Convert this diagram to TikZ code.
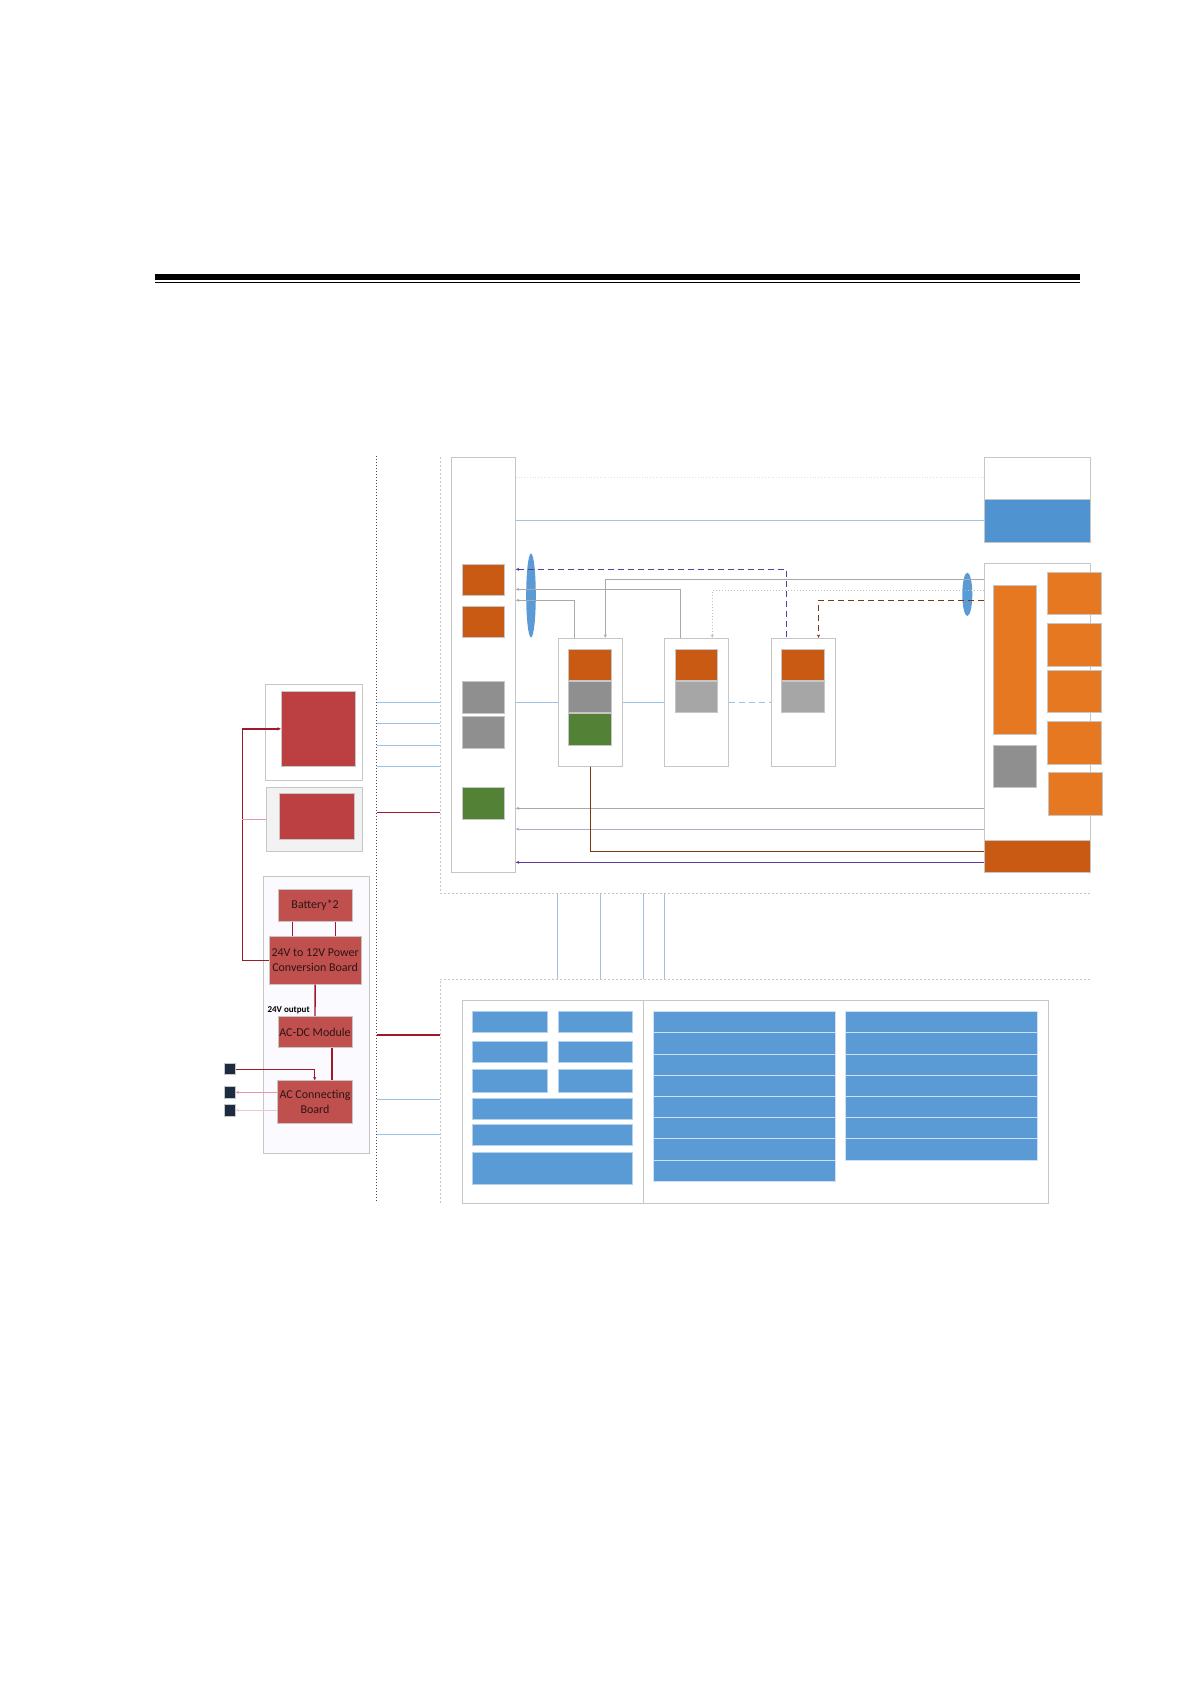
\documentclass[tikz,border=0pt]{standalone}
\usepackage{fontspec}
\setmainfont{Carlito}
\usetikzlibrary{arrows.meta,fit,shapes.geometric}
\definecolor{blkRed}{HTML}{C0504D}
\definecolor{blkDeepRed}{HTML}{BC3F42}
\definecolor{blkRust}{HTML}{C95A14}
\definecolor{blkOrange}{HTML}{E67822}
\definecolor{blkGray}{HTML}{8F8F8F}
\definecolor{blkSilver}{HTML}{A6A6A6}
\definecolor{blkGreen}{HTML}{538135}
\definecolor{blkBlue}{HTML}{5B9BD5}
\definecolor{blkSensor}{HTML}{4F93D1}
\definecolor{blkSky}{HTML}{9DC3E6}
\definecolor{blkFrame}{HTML}{C6C6C6}
\definecolor{blkWire}{HTML}{A9A9A9}
\definecolor{blkLilac}{HTML}{B4A7C8}
\definecolor{blkPurple}{HTML}{5E3A9C}
\definecolor{blkBrown}{HTML}{7A3A10}
\definecolor{blkCrimson}{HTML}{A0182C}
\definecolor{blkPink}{HTML}{E59AA5}
\definecolor{blkBlush}{HTML}{F0C6CC}
\definecolor{blkNavy}{HTML}{1C2B40}
\definecolor{blkInk}{HTML}{2E1416}
\tikzset{
  blk panel/.style={draw=blkFrame, fill=white, line width=0.5pt, inner sep=0pt},
  blk cell/.style={draw=blkFrame, line width=0.5pt, inner sep=0pt},
  blk module/.style={blk cell, fill=blkRed},
  blk caption/.style={font=\fontsize{6pt}{7.3pt}\selectfont, text=blkInk, align=center, inner sep=0pt},
  blk bar/.style={draw=blkBlue!45, fill=blkBlue, line width=0.5pt, inner sep=0pt},
  blk strip/.style={draw=blkBlue!30, fill=blkBlue, line width=0.5pt, inner sep=0pt},
  blk lens/.style={ellipse, fill=blkBlue, draw=none, inner sep=0pt},
  blk sky/.style={draw=blkSky, line width=0.5pt},
  blk wire/.style={draw=blkWire, line width=0.5pt},
  blk lilac/.style={draw=blkLilac, line width=0.5pt},
  blk feed/.style={draw=blkCrimson, line width=0.7pt},
  blk pink/.style={draw=blkPink, line width=0.6pt},
  blk bus/.style={draw=blkInk!80, densely dotted, line width=0.5pt},
  blk zone/.style={draw=blkFrame, dash pattern=on 1pt off 1pt, line width=0.4pt},
  blk end/.style={-{Stealth[length=1.7pt,width=1.6pt]}},
  blk start/.style={{Stealth[length=1.7pt,width=1.6pt]}-},
}

\begin{document}
\begin{tikzpicture}[x=0.5pt,y=-0.5pt]
  \useasboundingbox (0,0) rectangle (1191,1684);
  % Heading rule
  \fill[black] (155,274) rectangle (1080,280);
  \fill[black] (155,282) rectangle (1080,283.2);

  % Bus line and zone frames
  \coordinate (busN) at (376.5,456);
  \coordinate (busS) at (376.5,1203);
  \coordinate (upN) at (440.3,457);
  \coordinate (upS) at (440.3,893.3);
  \coordinate (upE) at (1090,893.3);
  \coordinate (loN) at (440.3,979);
  \coordinate (loE) at (1090,979);
  \coordinate (loS) at (440.3,1203);
  \draw[blk bus] (busN) -- (busS);
  \draw[blk zone] (upN) -- (upS) -- (upE);
  \draw[blk zone] (loS) -- (loN) -- (loE);

  % Left: two screens
  \node[blk panel, fit={(265.3,684.3) (362.7,780.3)}] (screenA) {};
  \node[blk cell, fill=blkDeepRed, fit={(281.3,691.3) (355.3,766.3)}] (screenAin) {};
  \node[blk panel, fill=black!5, fit={(266.3,787.3) (362.7,851.7)}] (screenB) {};
  \node[blk cell, fill=blkDeepRed, fit={(279.7,793.3) (354.3,839.3)}] (screenBin) {};

  % Left: power box
  \node[blk panel, fill=blue!2, fit={(263.3,876.5) (369.5,1153.3)}] (power) {};
  \node[blk module, fit={(278.3,889) (352,921.5)}] (batt) {};
  \node[blk module, fit={(269.3,936.7) (361,984)}] (conv) {};
  \node[blk module, fit={(278,1016.7) (352,1047.3)}] (acdc) {};
  \node[blk module, fit={(277.7,1080.7) (352.3,1123)}] (acboard) {};
  \node[blk caption] (battText) at (batt.center) {Battery*2};
  \node[blk caption] (convText) at (conv.center) {24V to 12V Power\\Conversion Board};
  \node[blk caption] (acdcText) at (acdc.center) {AC-DC Module};
  \node[blk caption] (acboardText) at (acboard.center) {AC Connecting\\Board};
  \node[font=\fontsize{4.5pt}{5pt}\selectfont\bfseries, anchor=east, inner sep=0pt] (vout) at (310,1010) {24V output};
  \foreach \i/\ya/\yb in {1/1063.7/1074.7, 2/1086.7/1098, 3/1104.3/1116}
    \node[draw=blkFrame, fill=blkNavy, line width=0.3pt, inner sep=0pt, fit={(224.3,\ya) (235.3,\yb)}] (plug\i) {};

  \draw[blk feed] (batt.south -| 292.7,0) -- (conv.north -| 292.7,0);
  \draw[blk feed] (batt.south -| 335.7,0) -- (conv.north -| 335.7,0);
  \draw[blk feed] (conv.south) -- (acdc.north);
  \draw[blk feed] (acdc.south -| 332,0) -- (acboard.north -| 332,0);
  \draw[blk feed, blk end] (conv.west) -| (screenAin.west -| 242.3,0) -- (screenAin.west);
  \draw[blk pink] (screenB.west) -- (screenB.west -| 242.3,0);
  \draw[blk feed, blk end] (plug1.east) -| (acboard.north -| 314.7,0);
  \draw[blk pink, blk end] (acboard.west |- plug2.east) -- (plug2.east);
  \draw[blk pink, draw=blkBlush, blk end] (acboard.west |- plug3.east) -- (plug3.east);

  % Bus taps
  \foreach \y in {702.3,723.3,745.3,766.3,1099.3,1134.3}
    \draw[blk sky] (busN |- 0,\y) -- (upN |- 0,\y);
  \foreach \y in {812.3,1035}
    \draw[blk feed] (busN |- 0,\y) -- (upN |- 0,\y);

  % Upper zone: hub column
  \node[blk panel, fit={(451.7,457.3) (515.3,872.3)}] (hub) {};
  \node[blk cell, fill=blkRust, fit={(462.3,564.3) (504.3,595.3)}] (hubA) {};
  \node[blk cell, fill=blkRust, fit={(462.3,606.3) (504.3,637.3)}] (hubB) {};
  \node[blk cell, fill=blkGray, fit={(462.3,681) (504.3,713.3)}] (hubC) {};
  \node[blk cell, fill=blkGray, fit={(462.3,716) (504.3,748.3)}] (hubD) {};
  \node[blk cell, fill=blkGreen, fit={(462.3,787.3) (504.3,819.3)}] (hubE) {};

  % Upper zone: three units
  \node[blk panel, fit={(558.3,638.3) (622.3,766)}] (unitA) {};
  \node[blk panel, fit={(664.3,638.3) (728.3,766)}] (unitB) {};
  \node[blk panel, fit={(771,638.3) (835.3,766)}] (unitC) {};
  \node[blk cell, fill=blkRust, fit={(568.7,649.7) (611.3,680)}] (unitAtop) {};
  \node[blk cell, fill=blkGray, fit={(568.7,681) (611.3,712.3)}] (unitAmid) {};
  \node[blk cell, fill=blkGreen, fit={(568.7,713.7) (611.3,745.3)}] (unitAlow) {};
  \node[blk cell, fill=blkRust, fit={(675.3,649.7) (717.3,680)}] (unitBtop) {};
  \node[blk cell, fill=blkSilver, fit={(675.3,681) (717.3,712.7)}] (unitBmid) {};
  \node[blk cell, fill=blkRust, fit={(781.7,649.7) (824.3,680)}] (unitCtop) {};
  \node[blk cell, fill=blkSilver, fit={(781.7,681) (824.3,712.7)}] (unitCmid) {};

  % Upper zone: sensor and drive
  \node[blk panel, fit={(984.3,457.3) (1090.3,542.3)}] (sensor) {};
  \node[blk cell, fill=blkSensor, fit={(984.3,499.3) (1090.3,542.3)}] (sensorBar) {};
  \node[blk panel, fit={(984.3,563.3) (1090.3,872.3)}] (drive) {};
  \node[blk cell, fill=blkRust, fit={(984.3,840.7) (1090.3,872.3)}] (driveBase) {};
  \node[blk cell, fill=blkOrange, fit={(993.3,585.7) (1036.3,734.3)}] (driveCore) {};
  \node[blk cell, fill=blkGray, fit={(993.3,745) (1036.3,787.7)}] (driveGray) {};
  \foreach \i/\ya/\yb in {1/572.7/614.3, 2/623.3/666, 3/670.3/712.3, 4/721.7/764}
    \node[blk cell, fill=blkOrange, fit={(1047.7,\ya) (1101,\yb)}] (drivePort\i) {};
  \node[blk cell, fill=blkOrange, fit={(1048.7,772.3) (1102.3,815)}] (drivePort5) {};

  \node[blk lens, minimum width=4.8pt, minimum height=42pt] (lensL) at (531,595.5) {};
  \node[blk lens, minimum width=5pt, minimum height=21.7pt] (lensR) at (967.3,594.3) {};

  % Upper zone: links
  \draw[draw=black!12, densely dotted, line width=0.4pt] (hub.east |- 0,477.7) -- (sensor.west |- 0,477.7);
  \draw[blk sky] (hub.east |- sensorBar.west) -- (sensorBar.west);
  \draw[draw=blkPurple, densely dashed, line width=0.5pt, blk start] (hub.east |- 0,569.3) -| (unitC.north -| 786.5,0);
  \draw[blk wire, blk end] (drive.west |- 0,579.3) -| (unitA.north -| 605.3,0);
  \draw[blk wire, blk start] (hub.east |- 0,589.3) -| (unitB.north -| 680.5,0);
  \draw[draw=black!25, densely dotted, line width=0.5pt, blk end] (drive.west |- 0,590.3) -| (unitB.north -| 712.3,0);
  \draw[blk wire, blk start] (hub.east |- 0,600.3) -| (unitA.north -| 574,0);
  \draw[draw=blkBrown, densely dashed, line width=0.5pt, blk end] (drive.west |- 0,600.3) -| (unitC.north -| 818.5,0);
  \draw[blk sky] (hub.east |- unitA.west) -- (unitA.west);
  \draw[blk sky] (unitA.east) -- (unitB.west);
  \draw[blk sky, densely dashed] (unitB.east) -- (unitC.west);
  \draw[blk wire, blk start] (hub.east |- 0,808.3) -- (drive.west |- 0,808.3);
  \draw[blk lilac, blk start] (hub.east |- 0,829) -- (drive.west |- 0,829);
  \draw[draw=blkBrown, line width=0.6pt] (unitA.south) |- (driveBase.west |- 0,851.3);
  \draw[draw=blkPurple, line width=0.6pt, blk start] (hub.east |- 0,862.3) -- (driveBase.west |- 0,862.3);

  % Links between zones
  \foreach \x in {557.4,600.4,643.3,664.3}
    \draw[blk sky] (upS -| \x,0) -- (loN -| \x,0);

  % Lower zone: panel
  \node[blk panel, fit={(462.3,1000.7) (1048.2,1203.3)}] (board) {};
  \draw[draw=blkFrame, line width=0.5pt] (board.north -| 643.3,0) -- (board.south -| 643.3,0);
  \foreach \r/\ya/\yb in {1/1011.7/1032.3, 2/1041.7/1062.3, 3/1069.5/1092} {
    \node[blk bar, fit={(472.4,\ya) (547.3,\yb)}] (keyL\r) {};
    \node[blk bar, fit={(558.3,\ya) (632.3,\yb)}] (keyR\r) {};
  }
  \foreach \r/\ya/\yb in {1/1098.3/1119.3, 2/1124.7/1145.3, 3/1152.7/1184}
    \node[blk bar, fit={(472.4,\ya) (632.3,\yb)}] (wide\r) {};
  \foreach \r in {0,...,7}
    \node[blk strip, fit={(653.4,1011.7+21.2*\r) (835.2,1032.9+21.2*\r)}] (midRow\r) {};
  \foreach \r in {0,...,6}
    \node[blk strip, fit={(845.3,1011.7+21.2*\r) (1037.2,1032.9+21.2*\r)}] (rightRow\r) {};
\end{tikzpicture}
\end{document}
